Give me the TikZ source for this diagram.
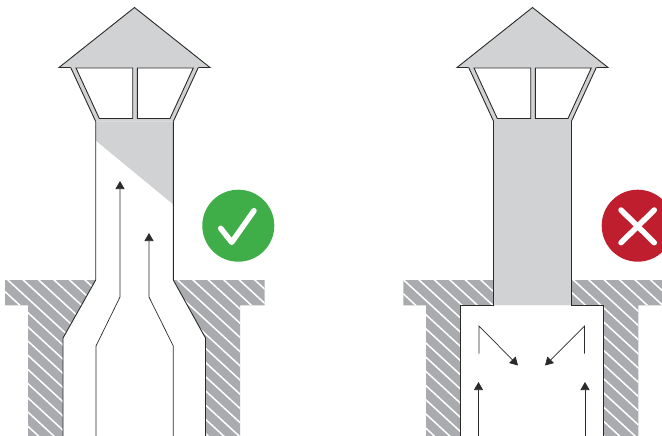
\documentclass[tikz,border=0pt]{standalone}
\usetikzlibrary{arrows.meta}
\definecolor{roofgray}{HTML}{D0D2D3}
\definecolor{wallgray}{HTML}{A9ABAE}
\definecolor{linedark}{HTML}{2B2A29}
\definecolor{okgreen}{HTML}{3FAE49}
\definecolor{nored}{HTML}{BE1E2D}
\tikzset{
  outline/.style={draw=linedark,line width=0.9pt,line join=miter},
  flow/.style={draw=linedark,line width=0.7pt,-{Triangle[length=8pt,width=9pt]}},
  hatchline/.style={draw=white,line width=1.5pt},
  mark stroke/.style={draw=white,line width=5.5pt,line cap=round,line join=round}
}
\newcommand{\roofcap}{%
  \fill[roofgray] (59,67.5) -- (134.5,7.5) -- (210,67.5) -- (198.3,67.5) -- (173.3,121.5) -- (95.7,121.5) -- (70.7,67.5) -- cycle;
  \draw[outline] (70.7,67.5) -- (59,67.5) -- (134.5,7.5) -- (210,67.5) -- (198.3,67.5);
  \draw[outline] (70.7,67.5) -- (95.7,121.5);
  \draw[outline] (198.3,67.5) -- (173.3,121.5);
  \draw[outline,fill=white] (76,68) -- (99.3,118.5) -- (132.7,118.5) -- (132.7,68) -- cycle;
  \draw[outline,fill=white] (193.3,68) -- (170,118.5) -- (137.3,118.5) -- (137.3,68) -- cycle;
}
% #1 clip path, #2 phase: stripes y = 0.92 x + #2 + 14.2 k
\newcommand{\hatchfill}[2]{%
  \begin{scope}
    \clip #1;
    \fill[wallgray] (-10,270) rectangle (680,440);
    \foreach \k in {-50,...,35} {
      \draw[hatchline] (0,{\k*14.2+#2}) -- (670,{\k*14.2+#2+616.4});
    }
  \end{scope}
}
\begin{document}
\begin{tikzpicture}[x=1pt,y=-1pt]
\useasboundingbox (0,0) rectangle (662,436);
% left chimney: walls
\hatchfill{(5,280) -- (95.7,280) -- (63,338) -- (63,436) -- (28,436) -- (28,305.3) -- (5,305.3) -- cycle}{3}
\hatchfill{(173.3,280) -- (264.7,280) -- (264.7,305.3) -- (240,305.3) -- (240,436) -- (205.5,436) -- (205.5,338) -- cycle}{3}
\fill[roofgray] (95.7,121.5) -- (173.3,121.5) -- (173.3,204.5) -- (95.7,140.5) -- cycle;
\roofcap
\draw[outline] (95.7,121.5) -- (95.7,280) -- (63,338) -- (63,436);
\draw[outline] (173.3,121.5) -- (173.3,280) -- (205.5,338) -- (205.5,436);
\coordinate (la) at (96,436); \coordinate (lb) at (96,346); \coordinate (lc) at (120,297); \coordinate (ld) at (120,181);
\coordinate (ra) at (173.3,436); \coordinate (rb) at (173.3,346); \coordinate (rc) at (149,297); \coordinate (rd) at (149,233);
\draw[flow] (la) -- (lb) -- (lc) -- (ld);
\draw[flow] (ra) -- (rb) -- (rc) -- (rd);
\fill[okgreen] (238.3,225.7) circle (36);
\draw[mark stroke] (220.7,228.3) -- (231.7,242.3) -- (254,210.7);
% right chimney
\hatchfill{(403.3,280) -- (662,280) -- (662,305.3) -- (638.3,305.3) -- (638.3,436) -- (603.3,436) -- (603.3,305) -- (460.7,305) -- (460.7,436) -- (426,436) -- (426,305.3) -- (403.3,305.3) -- cycle}{8}
\begin{scope}[xshift=398pt]
\fill[roofgray] (95.7,121.5) rectangle (173.3,305);
\roofcap
\draw[outline] (95.7,121.5) -- (95.7,305) -- (62.7,305) -- (62.7,436);
\draw[outline] (173.3,121.5) -- (173.3,305) -- (205.3,305) -- (205.3,436);
\end{scope}
\coordinate (a1) at (479,353.5); \coordinate (a2) at (479,326); \coordinate (a3) at (518,365.5);
\coordinate (b1) at (584.5,353.5); \coordinate (b2) at (584.5,326); \coordinate (b3) at (545,365.5);
\coordinate (c1) at (478.5,436); \coordinate (c2) at (478.5,382);
\coordinate (d1) at (585,436); \coordinate (d2) at (585,382);
\draw[flow] (a1) -- (a2) -- (a3);
\draw[flow] (b1) -- (b2) -- (b3);
\draw[flow] (c1) -- (c2);
\draw[flow] (d1) -- (d2);
\fill[nored] (637.7,225.7) circle (36);
\draw[mark stroke] (621,210) -- (654.3,242.7);
\draw[mark stroke] (654.3,210) -- (621,242.7);
\end{tikzpicture}
\end{document}
